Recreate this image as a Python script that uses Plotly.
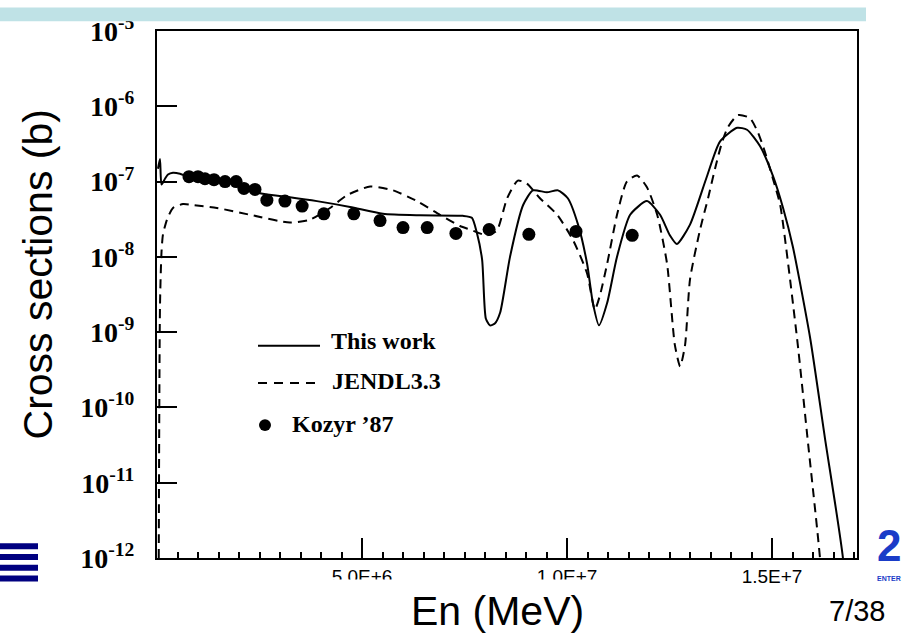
import plotly.graph_objects as go

# ---------------- data (energies in eV, cross sections in b) ----------------
kozyr_energy = [0.78e6, 1.00e6, 1.17e6, 1.39e6, 1.66e6, 1.93e6, 2.12e6, 2.39e6, 2.68e6,
                3.12e6, 3.54e6, 4.07e6, 4.80e6, 5.44e6, 6.00e6, 6.59e6, 7.29e6, 8.10e6,
                9.07e6, 10.22e6, 11.59e6]
kozyr_xs = [1.16e-7, 1.16e-7, 1.09e-7, 1.06e-7, 1.0e-7, 1.0e-7, 8.1e-8, 7.87e-8, 5.66e-8,
            5.5e-8, 4.73e-8, 3.73e-8, 3.73e-8, 3.03e-8, 2.45e-8, 2.45e-8, 2.05e-8, 2.31e-8,
            1.99e-8, 2.18e-8, 1.93e-8]

this_work_energy = [0.024e6, 0.073e6, 0.11e6, 0.195e6, 0.268e6, 0.39e6, 0.561e6, 0.756e6,
                    1.05e6, 1.39e6, 1.93e6, 2.51e6, 3.24e6, 3.90e6, 4.71e6, 5.51e6, 6.41e6,
                    7.46e6, 7.68e6, 7.80e6, 7.93e6, 8.02e6, 8.12e6, 8.24e6, 8.37e6, 8.61e6,
                    8.93e6, 9.17e6, 9.51e6, 9.78e6, 10.02e6, 10.27e6, 10.49e6, 10.63e6,
                    10.78e6, 10.98e6, 11.22e6, 11.54e6, 11.95e6, 12.27e6, 12.51e6, 12.68e6,
                    13.00e6, 13.41e6, 13.73e6, 14.15e6, 14.39e6, 14.71e6, 15.02e6, 15.27e6,
                    15.51e6, 15.93e6, 16.29e6, 16.73e6, 16.85e6]
this_work_xs = [1.48e-7, 1.99e-7, 9.14e-8, 1.09e-7, 1.24e-7, 1.31e-7, 1.27e-7, 1.16e-7,
                1.12e-7, 1.06e-7, 9.7e-8, 6.98e-8, 6.2e-8, 5.5e-8, 4.6e-8, 3.73e-8, 3.56e-8,
                3.51e-8, 3.31e-8, 2.1e-8, 9.14e-9, 1.52e-9, 1.23e-9, 1.3e-9, 1.82e-9, 1.0e-8,
                4.88e-8, 7.64e-8, 7.2e-8, 7.64e-8, 6.01e-8, 2.68e-8, 8.11e-9, 2.45e-9,
                1.23e-9, 2.45e-9, 1.0e-8, 3.62e-8, 5.5e-8, 3.62e-8, 1.93e-8, 1.48e-8,
                2.68e-8, 1.16e-7, 3.4e-7, 5.18e-7, 4.88e-7, 2.94e-7, 1.20e-7, 4.46e-8,
                1.35e-8, 8.36e-10, 3.95e-11, 1e-12, 1e-13]

jendl_energy = [0.037e6, 0.073e6, 0.11e6, 0.146e6, 0.244e6, 0.39e6, 0.634e6, 0.878e6,
                1.46e6, 2.27e6, 3.24e6, 3.73e6, 4.22e6, 4.63e6, 5.20e6, 5.76e6, 6.34e6,
                6.90e6, 7.39e6, 7.63e6, 8.05e6, 8.29e6, 8.54e6, 8.80e6, 9.02e6, 9.34e6,
                9.76e6, 10.15e6, 10.49e6, 10.68e6, 10.80e6, 10.98e6, 11.22e6, 11.46e6,
                11.71e6, 11.95e6, 12.20e6, 12.44e6, 12.63e6, 12.76e6, 12.88e6, 13.00e6,
                13.24e6, 13.44e6, 13.61e6, 13.78e6, 13.93e6, 14.17e6, 14.46e6, 14.66e6,
                14.83e6, 15.07e6, 15.20e6, 15.61e6, 15.88e6, 16.17e6, 16.29e6]
jendl_xs = [1e-13, 2.24e-9, 1.16e-8, 1.99e-8, 3.12e-8, 4.46e-8, 5.03e-8, 4.88e-8, 4.46e-8,
            3.62e-8, 2.85e-8, 3.12e-8, 4.46e-8, 6.58e-8, 8.61e-8, 7.64e-8, 5.5e-8, 3.62e-8,
            2.57e-8, 2.31e-8, 1.93e-8, 2.24e-8, 6.01e-8, 1.03e-7, 9.42e-8, 6.01e-8, 3.62e-8,
            1.66e-8, 6.01e-9, 2.0e-9, 3.03e-9, 8.11e-9, 3.62e-8, 1.0e-7, 1.2e-7, 8.4e-8,
            3.62e-8, 8.11e-9, 6.78e-10, 3.51e-10, 6.78e-10, 5.03e-9, 2.24e-8, 6.01e-8,
            1.48e-7, 3.31e-7, 5.34e-7, 7.64e-7, 6.98e-7, 4.46e-7, 2.45e-7, 8.87e-8, 4.88e-8,
            8.36e-10, 3.3e-11, 1e-12, 1e-13]

x_tick_values = [5.0e6, 1.0e7, 1.5e7]
x_tick_labels = ["5.0E+6", "1.0E+7", "1.5E+7"]
y_tick_values = [1e-12, 1e-11, 1e-10, 1e-9, 1e-8, 1e-7, 1e-6, 1e-5]
y_tick_labels = ["<b>10<sup>-12</sup></b>", "<b>10<sup>-11</sup></b>", "<b>10<sup>-10</sup></b>",
                 "<b>10<sup>-9</sup></b>", "<b>10<sup>-8</sup></b>", "<b>10<sup>-7</sup></b>",
                 "<b>10<sup>-6</sup></b>", "<b>10<sup>-5</sup></b>"]

# ---------------- geometry helpers (pixel -> paper) ----------------
W, H = 903, 634
L, R, T, B = 157, 857, 19, 558


def px(x):
    return (x - L) / (R - L)


def py(y):
    return (B - y) / (B - T)


fig = go.Figure()

fig.add_trace(go.Scatter(
    x=jendl_energy, y=jendl_xs, mode="lines",
    line=dict(color="black", width=2, dash="9px,6px", shape="spline", smoothing=0.6),
    showlegend=False, hoverinfo="skip"))
fig.add_trace(go.Scatter(
    x=this_work_energy, y=this_work_xs, mode="lines",
    line=dict(color="black", width=2, shape="spline", smoothing=0.6),
    showlegend=False, hoverinfo="skip"))
fig.add_trace(go.Scatter(
    x=kozyr_energy, y=kozyr_xs, mode="markers",
    marker=dict(color="black", size=13, line=dict(width=0)),
    showlegend=False, hoverinfo="skip"))

shapes = []
annotations = []

# top light-blue band of the slide title box
shapes.append(dict(type="rect", xref="paper", yref="paper",
                   x0=px(-5), x1=px(866), y0=py(9), y1=py(-5),
                   fillcolor="#bfe2e6", line=dict(width=0), layer="above"))

# white box of slide axis-title text hiding lower half of tick labels
shapes.append(dict(type="rect", xref="paper", yref="paper",
                   x0=px(300), x1=px(705), y0=py(640), y1=py(580),
                   fillcolor="white", line=dict(width=0), layer="above"))

# navy stripes (bottom-left slide decoration)
for y0 in [543, 554, 565, 576]:
    shapes.append(dict(type="rect", xref="paper", yref="paper",
                       x0=px(-2), x1=px(38), y0=py(y0 + 6), y1=py(y0),
                       fillcolor="#000080", line=dict(width=0), layer="above"))

# legend samples
shapes.append(dict(type="line", xref="paper", yref="paper",
                   x0=px(258), x1=px(320), y0=py(341), y1=py(341),
                   line=dict(color="black", width=2)))
shapes.append(dict(type="line", xref="paper", yref="paper",
                   x0=px(258), x1=px(320), y0=py(379), y1=py(379),
                   line=dict(color="black", width=2, dash="9px,7px")))
shapes.append(dict(type="circle", xref="paper", yref="paper",
                   x0=px(259), x1=px(271), y0=py(428), y1=py(416),
                   fillcolor="black", line=dict(width=0)))

legend_font = dict(family="Liberation Serif", size=24, color="black")
for txt, xx, yy in [("<b>This work</b>", 329, 336), ("<b>JENDL3.3</b>", 330, 377),
                    ("<b>Kozyr ’87</b>", 290, 421)]:
    annotations.append(dict(text=txt, xref="paper", yref="paper", x=px(xx), y=py(yy),
                            xanchor="left", yanchor="middle", showarrow=False,
                            font=legend_font))

# axis titles, page number, logo
annotations.append(dict(text="Cross sections (b)", xref="paper", yref="paper",
                        x=px(38), y=py(268), textangle=-90, showarrow=False,
                        xanchor="center", yanchor="middle",
                        font=dict(family="Liberation Sans", size=41, color="black")))
annotations.append(dict(text="En (MeV)", xref="paper", yref="paper",
                        x=px(497), y=py(612), showarrow=False,
                        xanchor="center", yanchor="middle",
                        font=dict(family="Liberation Sans", size=41, color="black")))
annotations.append(dict(text="7/38", xref="paper", yref="paper",
                        x=px(857), y=py(612), showarrow=False,
                        xanchor="center", yanchor="middle",
                        font=dict(family="Liberation Sans", size=29, color="black")))
annotations.append(dict(text="<b>2</b>", xref="paper", yref="paper",
                        x=px(889), y=py(545), showarrow=False,
                        xanchor="center", yanchor="middle",
                        font=dict(family="Liberation Sans", size=44, color="#1a3cc8")))
annotations.append(dict(text="<b>ENTER</b>", xref="paper", yref="paper",
                        x=px(889), y=py(579), showarrow=False,
                        xanchor="center", yanchor="middle",
                        font=dict(family="Liberation Sans", size=7, color="#1a3cc8")))

fig.update_layout(
    width=W, height=H,
    margin=dict(l=L, r=W - R, t=T, b=H - B, pad=0),
    paper_bgcolor="white", plot_bgcolor="white",
    shapes=shapes, annotations=annotations,
    showlegend=False,
)

fig.update_xaxes(
    range=[0, 1.7073e7], showgrid=False, zeroline=False,
    showline=True, linecolor="black", linewidth=2, mirror=True,
    tickmode="array", tickvals=x_tick_values, ticktext=x_tick_labels,
    ticks="inside", ticklen=20, tickwidth=1.5, tickcolor="black",
    tickfont=dict(family="Liberation Sans", size=19, color="black"),
    ticklabelstandoff=0,
    minor=dict(tickmode="linear", tick0=0, dtick=5e5, ticks="inside", ticklen=6,
               tickwidth=1.5, tickcolor="black", showgrid=False),
)
fig.update_yaxes(
    type="log", range=[-12, -5], showgrid=False, zeroline=False,
    showline=True, linecolor="black", linewidth=2, mirror=True,
    tickmode="array", tickvals=y_tick_values, ticktext=y_tick_labels,
    ticks="inside", ticklen=20, tickwidth=1.5, tickcolor="black",
    tickfont=dict(family="Liberation Serif", size=28, color="black"),
    ticklabelstandoff=15,
)

fig.write_html("out.html")
